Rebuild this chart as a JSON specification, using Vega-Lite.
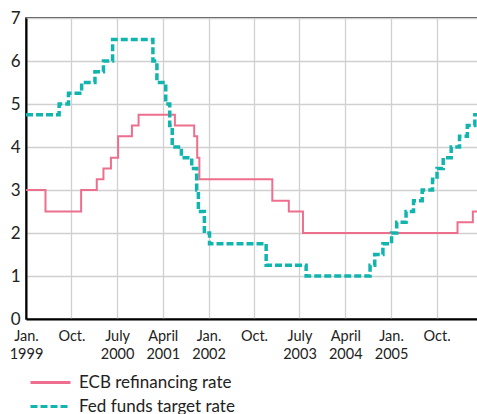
{
  "$schema": "https://vega.github.io/schema/vega-lite/v6.json",
  "width": 452,
  "height": 301,
  "autosize": "none",
  "padding": {"left": 26, "top": 18, "right": 0, "bottom": 95},
  "background": "white",
  "config": {"view": {"stroke": "#111", "strokeWidth": 1.5}, "font": "Lato"},
  "data": {"values": [
    {"series": "ECB refinancing rate", "date": "1999-01-01", "rate": 3.0},
    {"series": "ECB refinancing rate", "date": "1999-04-28", "rate": 2.5},
    {"series": "ECB refinancing rate", "date": "1999-11-28", "rate": 3.0},
    {"series": "ECB refinancing rate", "date": "2000-03-01", "rate": 3.25},
    {"series": "ECB refinancing rate", "date": "2000-04-10", "rate": 3.5},
    {"series": "ECB refinancing rate", "date": "2000-05-25", "rate": 3.75},
    {"series": "ECB refinancing rate", "date": "2000-07-07", "rate": 4.25},
    {"series": "ECB refinancing rate", "date": "2000-09-28", "rate": 4.5},
    {"series": "ECB refinancing rate", "date": "2000-11-07", "rate": 4.75},
    {"series": "ECB refinancing rate", "date": "2001-06-13", "rate": 4.5},
    {"series": "ECB refinancing rate", "date": "2001-10-07", "rate": 4.25},
    {"series": "ECB refinancing rate", "date": "2001-10-25", "rate": 3.75},
    {"series": "ECB refinancing rate", "date": "2001-11-07", "rate": 3.25},
    {"series": "ECB refinancing rate", "date": "2003-01-19", "rate": 2.75},
    {"series": "ECB refinancing rate", "date": "2003-04-28", "rate": 2.5},
    {"series": "ECB refinancing rate", "date": "2003-07-22", "rate": 2.0},
    {"series": "ECB refinancing rate", "date": "2006-02-04", "rate": 2.25},
    {"series": "ECB refinancing rate", "date": "2006-05-07", "rate": 2.5},
    {"series": "ECB refinancing rate", "date": "2006-06-07", "rate": 2.5},
    {"series": "Fed funds target rate", "date": "1999-01-01", "rate": 4.75},
    {"series": "Fed funds target rate", "date": "1999-07-19", "rate": 5.0},
    {"series": "Fed funds target rate", "date": "1999-09-13", "rate": 5.25},
    {"series": "Fed funds target rate", "date": "1999-12-01", "rate": 5.5},
    {"series": "Fed funds target rate", "date": "2000-02-19", "rate": 5.75},
    {"series": "Fed funds target rate", "date": "2000-04-10", "rate": 6.0},
    {"series": "Fed funds target rate", "date": "2000-06-04", "rate": 6.5},
    {"series": "Fed funds target rate", "date": "2001-02-01", "rate": 6.0},
    {"series": "Fed funds target rate", "date": "2001-02-25", "rate": 5.5},
    {"series": "Fed funds target rate", "date": "2001-04-19", "rate": 5.0},
    {"series": "Fed funds target rate", "date": "2001-05-13", "rate": 4.5},
    {"series": "Fed funds target rate", "date": "2001-05-28", "rate": 4.0},
    {"series": "Fed funds target rate", "date": "2001-07-22", "rate": 3.75},
    {"series": "Fed funds target rate", "date": "2001-09-22", "rate": 3.5},
    {"series": "Fed funds target rate", "date": "2001-10-22", "rate": 3.0},
    {"series": "Fed funds target rate", "date": "2001-11-01", "rate": 2.5},
    {"series": "Fed funds target rate", "date": "2001-12-07", "rate": 2.0},
    {"series": "Fed funds target rate", "date": "2002-01-07", "rate": 1.75},
    {"series": "Fed funds target rate", "date": "2002-12-13", "rate": 1.25},
    {"series": "Fed funds target rate", "date": "2003-08-10", "rate": 1.0},
    {"series": "Fed funds target rate", "date": "2004-08-28", "rate": 1.25},
    {"series": "Fed funds target rate", "date": "2004-09-25", "rate": 1.5},
    {"series": "Fed funds target rate", "date": "2004-11-13", "rate": 1.75},
    {"series": "Fed funds target rate", "date": "2005-01-04", "rate": 2.0},
    {"series": "Fed funds target rate", "date": "2005-02-04", "rate": 2.25},
    {"series": "Fed funds target rate", "date": "2005-04-01", "rate": 2.5},
    {"series": "Fed funds target rate", "date": "2005-05-16", "rate": 2.75},
    {"series": "Fed funds target rate", "date": "2005-07-07", "rate": 3.0},
    {"series": "Fed funds target rate", "date": "2005-09-07", "rate": 3.25},
    {"series": "Fed funds target rate", "date": "2005-10-04", "rate": 3.5},
    {"series": "Fed funds target rate", "date": "2005-11-10", "rate": 3.75},
    {"series": "Fed funds target rate", "date": "2005-12-28", "rate": 4.0},
    {"series": "Fed funds target rate", "date": "2006-02-16", "rate": 4.25},
    {"series": "Fed funds target rate", "date": "2006-04-04", "rate": 4.5},
    {"series": "Fed funds target rate", "date": "2006-05-19", "rate": 4.75},
    {"series": "Fed funds target rate", "date": "2006-06-07", "rate": 4.75}
  ]},
  "mark": {"type": "line", "interpolate": "step-after", "clip": true},
  "encoding": {
    "x": {
      "field": "date", "type": "temporal",
      "scale": {"type": "utc", "domain": [
        {"year": 1999, "month": 1, "date": 1, "utc": true},
        {"year": 2006, "month": 6, "date": 7, "utc": true}
      ]},
      "axis": {
        "title": null,
        "values": [
          {"year": 1999, "month": 1, "date": 1, "utc": true},
          {"year": 1999, "month": 10, "date": 1, "utc": true},
          {"year": 2000, "month": 7, "date": 1, "utc": true},
          {"year": 2001, "month": 4, "date": 1, "utc": true},
          {"year": 2002, "month": 1, "date": 1, "utc": true},
          {"year": 2002, "month": 10, "date": 1, "utc": true},
          {"year": 2003, "month": 7, "date": 1, "utc": true},
          {"year": 2004, "month": 4, "date": 1, "utc": true},
          {"year": 2005, "month": 1, "date": 1, "utc": true},
          {"year": 2005, "month": 10, "date": 1, "utc": true}
        ],
        "labelExpr": "utcmonth(datum.value) == 0 ? ['Jan.', '' + utcyear(datum.value)] : utcmonth(datum.value) == 6 ? ['July', '' + utcyear(datum.value)] : utcmonth(datum.value) == 3 ? ['April', '' + utcyear(datum.value)] : 'Oct.'",
        "labelFontSize": 14.5,
        "labelColor": "#222",
        "labelLineHeight": 18,
        "labelPadding": 10,
        "labelOverlap": false,
        "labelFlush": false,
        "ticks": false,
        "grid": true,
        "gridColor": "#d0d0d0",
        "gridWidth": 1.3,
        "domainColor": "#000",
        "domainWidth": 2
      }
    },
    "y": {
      "field": "rate", "type": "quantitative",
      "scale": {"domain": [0, 7], "nice": false},
      "axis": {
        "title": null,
        "values": [0, 1, 2, 3, 4, 5, 6, 7],
        "labelFontSize": 17,
        "labelColor": "#222",
        "labelPadding": 6,
        "ticks": false,
        "grid": true,
        "gridColor": "#d0d0d0",
        "gridWidth": 1.3,
        "domainColor": "#000",
        "domainWidth": 2
      }
    },
    "color": {
      "field": "series", "type": "nominal",
      "scale": {"domain": ["ECB refinancing rate", "Fed funds target rate"], "range": ["#ee6e8e", "#12b5ad"]},
      "legend": {"title": null, "orient": "none", "legendX": 0, "legendY": 356, "padding": 0, "symbolType": "M-4,0H4", "symbolSize": 100, "symbolOffset": 16, "symbolStrokeWidth": 3, "labelFontSize": 17, "labelColor": "#222", "labelOffset": 20, "rowPadding": 6}
    },
    "strokeDash": {
      "field": "series", "type": "nominal",
      "scale": {"domain": ["ECB refinancing rate", "Fed funds target rate"], "range": [[1, 0], [7, 3]]},
      "legend": {"title": null, "orient": "none", "legendX": 0, "legendY": 356, "padding": 0, "symbolType": "M-4,0H4", "symbolSize": 100, "symbolOffset": 16, "symbolStrokeWidth": 3, "labelFontSize": 17, "labelColor": "#222", "labelOffset": 20, "rowPadding": 6}
    },
    "strokeWidth": {
      "condition": {"test": "datum.series === 'Fed funds target rate'", "value": 3.5},
      "value": 2
    }
  }
}
